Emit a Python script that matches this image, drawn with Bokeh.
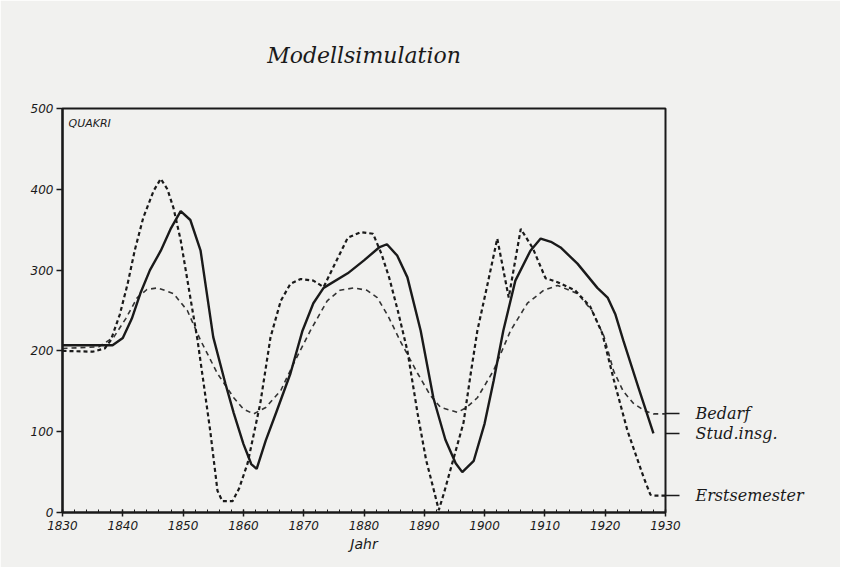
from bokeh.plotting import figure
from bokeh.models import Label, FixedTicker, Range1d, LinearAxis
from bokeh.embed import file_html
from bokeh.resources import INLINE

# ---------------- data ----------------
title_text = "Modellsimulation"
y_label_text = "QUAKRI"
x_label_text = "Jahr"
series_names = ["Bedarf", "Stud.insg.", "Erstsemester"]

x_ticks = [1830, 1840, 1850, 1860, 1870, 1880, 1890, 1900, 1910, 1920, 1930]
y_ticks = [0, 100, 200, 300, 400, 500]

# Bedarf (fine dashed)
bedarf_years = [1830, 1836, 1838.5, 1840.5, 1842.4, 1844, 1845.8, 1848.4, 1850.7, 1852.9,
                1855.7, 1858.4, 1860, 1861.7, 1863.7, 1866.2, 1868.3, 1871.1, 1873.9, 1876,
                1878.3, 1880.5, 1882.2, 1884, 1886.1, 1888.9, 1891, 1892.7, 1895.5, 1897,
                1898.8, 1901.5, 1904.3, 1907.1, 1909.8, 1912.1, 1915.4, 1917.8, 1919.8, 1921.4,
                1923, 1924.7, 1926.5, 1928, 1930]
bedarf_values = [203, 205, 217, 240, 266, 276, 278, 271, 250, 213,
                 172, 142, 128, 122, 130, 151, 184, 225, 262, 275,
                 278, 275, 266, 243, 211, 172, 145, 130, 124, 130,
                 142, 176, 225, 259, 275, 281, 271, 250, 218, 175,
                 150, 135, 126, 122, 122]

# Stud.insg. (solid)
stud_years = [1830, 1834, 1838.3, 1840, 1841.5, 1842.9, 1844.5, 1846.3, 1848, 1849.6,
              1851.2, 1852.9, 1855, 1857, 1858.4, 1860, 1861.3, 1862.2, 1863.7, 1865.5,
              1867.8, 1869.8, 1871.6, 1873.3, 1877.3, 1880, 1882.5, 1883.8, 1885.5, 1887.2,
              1889.4, 1891.5, 1893.5, 1895.2, 1896.3, 1898.2, 1900, 1901.5, 1903.1, 1905.1,
              1907.6, 1909.3, 1911, 1912.6, 1915.4, 1918.7, 1920.4, 1921.7, 1923, 1925.5,
              1928]
stud_values = [207, 207, 207, 216, 240, 271, 300, 324, 352, 373,
               362, 324, 217, 160, 123, 85, 60, 54, 89, 125,
               172, 225, 259, 278, 296, 312, 328, 332, 318, 291,
               225, 142, 90, 61, 50, 64, 110, 163, 225, 287,
               324, 339, 335, 328, 308, 278, 266, 245, 213, 155,
               98]

# Erstsemester (coarse dashed)
erst_years = [1830, 1835, 1837, 1838, 1839.5, 1840.8, 1842, 1843.4, 1845.1, 1846.3,
              1847.4, 1848.4, 1849.6, 1851.2, 1852.4, 1853.4, 1854.5, 1855.7, 1856.5, 1858.2,
              1859.3, 1860.7, 1862.8, 1864.5, 1866.2, 1867.8, 1869.5, 1871.6, 1873.3, 1875,
              1877.3, 1879.5, 1881.5, 1882.9, 1884.2, 1885.6, 1887.2, 1888.9, 1890.3, 1891.5,
              1892.4, 1893.3, 1894.3, 1896.5, 1897.7, 1898.8, 1900.5, 1902.1, 1904, 1906,
              1908, 1910.1, 1912.1, 1915, 1917.5, 1919.5, 1921.4, 1923.7, 1926.4, 1927.5,
              1928, 1930]
erst_values = [200, 199, 203, 213, 245, 283, 325, 365, 398, 413,
               400, 377, 337, 266, 213, 160, 101, 27, 14, 14,
               30, 61, 135, 217, 262, 283, 289, 287, 279, 305,
               340, 347, 345, 320, 290, 250, 200, 122, 65, 30,
               3, 25, 52, 111, 172, 225, 283, 339, 266, 351,
               327, 290, 285, 275, 255, 222, 165, 101, 43, 22,
               21, 21]

# end levels at which the series names are written (right margin)
label_levels = [122, 98, 21]

# ---------------- styles ----------------
paper = "#f1f1ef"
ink = "#1a1a1a"
tick_font = "DejaVu Sans"
text_font = "DejaVu Serif"

p = figure(frame_width=603, frame_height=404,
           min_border_left=62, min_border_right=175,
           min_border_top=108, min_border_bottom=55,
           x_range=Range1d(1830, 1930), y_range=Range1d(0, 500),
           output_backend="svg", toolbar_location=None)

p.background_fill_color = paper
p.border_fill_color = paper
p.outline_line_color = ink
p.outline_line_width = 2
p.grid.visible = False

# title
p.title.text = title_text
p.title.align = "center"
p.title.text_font = text_font
p.title.text_font_style = "italic"
p.title.text_font_size = "22px"
p.title.text_color = ink
p.title.standoff = 81

# axes
p.xaxis.ticker = FixedTicker(ticks=x_ticks, minor_ticks=list(range(1830, 1931, 2)))
p.yaxis.ticker = FixedTicker(ticks=y_ticks)
for ax in (p.xaxis, p.yaxis):
    ax.axis_line_color = ink
    ax.axis_line_width = 2.2
    ax.major_tick_line_color = ink
    ax.major_tick_line_width = 1.5
    ax.major_label_text_font = tick_font
    ax.major_label_text_font_style = "italic"
    ax.major_label_text_font_size = "12px"
    ax.major_label_text_color = ink
p.xaxis.major_tick_out = 4
p.xaxis.major_tick_in = 3
p.xaxis.minor_tick_in = 3
p.xaxis.minor_tick_out = 0
p.xaxis.minor_tick_line_color = ink
p.xaxis.minor_tick_line_width = 1
p.xaxis.major_label_standoff = 4
p.xaxis.axis_label = x_label_text
p.xaxis.axis_label_text_font = tick_font
p.xaxis.axis_label_text_font_style = "italic"
p.xaxis.axis_label_text_font_size = "14px"
p.xaxis.axis_label_text_color = ink
p.xaxis.axis_label_standoff = 3
p.yaxis.major_tick_out = 6
p.yaxis.major_tick_in = 0
p.yaxis.minor_tick_line_color = None
p.yaxis.major_label_standoff = 3

# right-hand axis carrying the series names with short leader ticks
name_axis = LinearAxis(ticker=FixedTicker(ticks=label_levels),
                       major_label_overrides={lv: nm for lv, nm in zip(label_levels, series_names)})
name_axis.axis_line_color = None
name_axis.minor_tick_line_color = None
name_axis.major_tick_line_color = ink
name_axis.major_tick_line_width = 1.5
name_axis.major_tick_in = 0
name_axis.major_tick_out = 14
name_axis.major_label_standoff = 16
name_axis.major_label_text_font = text_font
name_axis.major_label_text_font_style = "italic"
name_axis.major_label_text_font_size = "16px"
name_axis.major_label_text_color = ink
p.add_layout(name_axis, "right")

# series
p.line(bedarf_years, bedarf_values, line_color="#333333", line_width=1.6, line_dash="5 4")
p.line(stud_years, stud_values, line_color=ink, line_width=2.4)
p.line(erst_years, erst_values, line_color=ink, line_width=2.2, line_dash="4 3")

# label inside the plot area
p.add_layout(Label(x=1831, y=481, text=y_label_text, text_align="left", text_baseline="middle",
                   text_font=tick_font, text_font_style="italic", text_font_size="11px",
                   text_color=ink))

open("out.html", "w").write(file_html(p, INLINE))
